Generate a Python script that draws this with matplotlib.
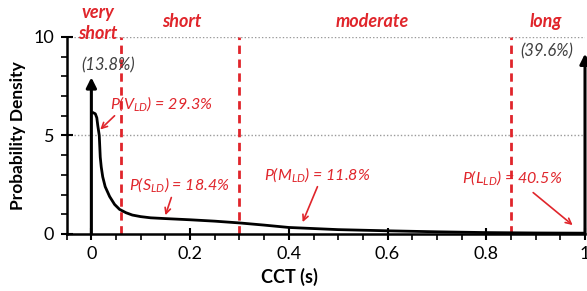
import numpy as np
import matplotlib.pyplot as plt
from matplotlib.ticker import MultipleLocator

plt.rcParams['font.family'] = ['Lato', 'DejaVu Sans']
plt.rcParams['mathtext.fontset'] = 'custom'
plt.rcParams['mathtext.it'] = 'Lato:italic'
plt.rcParams['mathtext.rm'] = 'Lato'

# density curve
cct = [0.004, 0.008, 0.011, 0.013, 0.016, 0.018, 0.02, 0.023, 0.028, 0.037, 0.047,
       0.057, 0.07, 0.083, 0.1, 0.12, 0.15, 0.2, 0.25, 0.3, 0.35, 0.4, 0.5, 0.6,
       0.7, 0.8, 0.85, 0.9, 1.0]
dens = [6.15, 6.1, 5.9, 5.5, 5.0, 3.9, 3.4, 2.9, 2.4, 1.9, 1.5,
        1.25, 1.08, 0.96, 0.88, 0.82, 0.78, 0.72, 0.65, 0.56, 0.45, 0.33, 0.22, 0.16,
        0.11, 0.07, 0.06, 0.05, 0.04]

# impulse masses at the ends
spike_x = [0.0, 1.0]
spike_h = [7.95, 9.15]
spike_lbl = ['(13.8%)', '(39.6%)']
spike_lbl_x = [0.034, 0.922]
spike_lbl_y = [8.55, 9.25]

bounds = [0.06, 0.3, 0.85]
regions = ['short', 'moderate', 'long']
region_x = [0.183, 0.57, 0.92]

probs = [r'P(V$_{\mathit{LD}}$) = 29.3%', r'P(S$_{\mathit{LD}}$) = 18.4%',
         r'P(M$_{\mathit{LD}}$) = 11.8%', r'P(L$_{\mathit{LD}}$) = 40.5%']
prob_xy = [(0.037, 6.6), (0.077, 2.5), (0.35, 3.0), (0.75, 2.85)]
arrow_from = [(0.047, 6.0), (0.162, 1.85), (0.458, 2.4), (0.895, 2.1)]
arrow_to = [(0.018, 5.3), (0.15, 0.95), (0.428, 0.6), (0.975, 0.45)]

red = '#e0252b'

fig = plt.figure(figsize=(5.87, 2.91), dpi=100)
ax = fig.add_axes([0.1136, 0.196, 0.883, 0.677])

for y in [5, 10]:
    ax.axhline(y, color='#9a9a9a', ls=(0, (1, 1.5)), lw=1, zorder=1)
for b in bounds:
    ax.plot([b, b], [0, 10], color=red, ls=(0, (3, 2)), lw=2, zorder=2)

ax.plot(cct, dens, color='black', lw=2, zorder=3)
for sx, sh in zip(spike_x, spike_h):
    ax.annotate('', xy=(sx, sh), xytext=(sx, 0),
                arrowprops=dict(arrowstyle='-|>,head_length=0.6,head_width=0.3',
                                color='black', lw=2.2, shrinkA=0, shrinkB=0),
                zorder=4, annotation_clip=False)
for lx, ly, t in zip(spike_lbl_x, spike_lbl_y, spike_lbl):
    ax.text(lx, ly, t, ha='center', va='center', style='italic', fontsize=12,
            color='#404040')

# region names
ax.text(0.013, 11.25, 'very', ha='center', va='center', style='italic',
        fontweight='bold', fontsize=13, color=red, clip_on=False)
ax.text(0.013, 10.2, 'short', ha='center', va='center', style='italic',
        fontweight='bold', fontsize=13, color=red, clip_on=False)
for rx, r in zip(region_x, regions):
    ax.text(rx, 10.8, r, ha='center', va='center', style='italic',
            fontweight='bold', fontsize=13, color=red, clip_on=False)

for t, (px, py), a0, a1 in zip(probs, prob_xy, arrow_from, arrow_to):
    ax.text(px, py, t, ha='left', va='center', style='italic', fontsize=11.5,
            color=red)
    ax.annotate('', xy=a1, xytext=a0,
                arrowprops=dict(arrowstyle='->,head_length=0.4,head_width=0.2',
                                color=red, lw=1.2, shrinkA=0, shrinkB=0))

ax.set_xlim(-0.05, 1.0)
ax.set_ylim(0, 10)
ax.xaxis.set_minor_locator(MultipleLocator(0.05))
ax.yaxis.set_major_locator(MultipleLocator(5))
ax.yaxis.set_minor_locator(MultipleLocator(1))
ax.set_xticks([0, 0.2, 0.4, 0.6, 0.8, 1.0])
ax.set_xticklabels(['0', '0.2', '0.4', '0.6', '0.8', '1'])
ax.tick_params(which='major', direction='inout', length=8, width=1.5, labelsize=13, pad=5)
ax.tick_params(which='minor', direction='out', length=4, width=1.2)
for s in ['top', 'right']:
    ax.spines[s].set_visible(False)
for s in ['left', 'bottom']:
    ax.spines[s].set_linewidth(1.8)

ax.set_xlabel('CCT (s)', fontweight='bold', fontsize=13, labelpad=4)
ax.xaxis.set_label_coords(0.43, -0.17, transform=ax.transAxes)
ax.xaxis.label.set_va('top')
ax.set_ylabel('Probability Density', fontweight='bold', fontsize=12.5, labelpad=5)

fig.savefig('out.png', dpi=100)
